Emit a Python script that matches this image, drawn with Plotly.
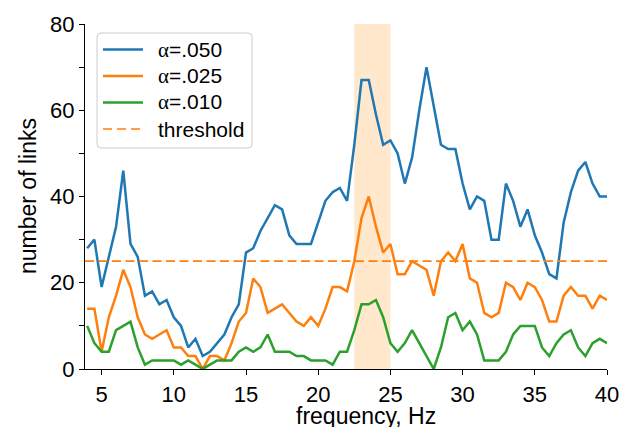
import plotly.graph_objects as go

# frequency grid, 4-40 Hz in 0.5 Hz steps
freqs = [4 + 0.5 * i for i in range(73)]

links_050 = [28, 30, 19, 26, 33, 46, 29, 26, 17, 18,
             15, 16, 12, 10, 5, 7, 3, 4, 6, 8,
             12, 15, 27, 28, 32, 35, 38, 37, 31, 29,
             29, 29, 34, 39, 41, 42, 39, 52, 67, 67,
             59, 52, 53, 50, 43, 49, 60, 70, 61, 52,
             51, 51, 43, 37, 40, 39, 30, 30, 43, 39,
             33, 37, 31, 27, 22, 21, 34, 41, 46, 48,
             43, 40, 40]

links_025 = [14, 14, 4, 12, 17, 23, 19, 12, 8, 7,
             8, 9, 5, 5, 3, 3, 0, 3, 3, 2,
             6, 11, 13, 21, 19, 13, 14, 15, 13, 11,
             10, 12, 10, 14, 19, 19, 18, 25, 35, 40,
             33, 27, 29, 22, 22, 25, 24, 23, 17, 25,
             27, 25, 29, 21, 20, 13, 12, 13, 20, 19,
             16, 20, 19, 16, 11, 11, 17, 19, 17, 17,
             14, 17, 16]

links_010 = [10, 6, 4, 4, 9, 10, 11, 5, 1, 2,
             2, 2, 2, 1, 2, 1, 0, 1, 2, 2,
             2, 4, 5, 4, 5, 8, 4, 4, 4, 3,
             3, 2, 2, 2, 1, 4, 4, 9, 15, 15,
             16, 12, 6, 4, 6, 9, 6, 3, 0, 5,
             12, 13, 9, 11, 8, 2, 2, 2, 4, 8,
             10, 10, 10, 5, 3, 6, 8, 9, 5, 3,
             6, 7, 6]

threshold = 25
band = [22.5, 25]
x_ticks = [5, 10, 15, 20, 25, 30, 35, 40]
y_ticks = [0, 20, 40, 60, 80]

ALPHA = "<span style=\"font-family:'Liberation Serif', serif\">α</span>"
series = [
    (ALPHA + "=.050", links_050, "#1f77b4"),
    (ALPHA + "=.025", links_025, "#ff7f0e"),
    (ALPHA + "=.010", links_010, "#2ca02c"),
]

FONT = "Liberation Sans, Arial, Helvetica, sans-serif"
W, H = 623, 429
ML, MR, MT, MB = 85, 16, 24, 60
PW, PH = W - ML - MR, H - MT - MB


def px_x(px):
    return (px - ML) / PW


def px_y(py):
    return (H - MB - py) / PH


fig = go.Figure()
for name, vals, color in series:
    fig.add_trace(go.Scatter(
        x=freqs, y=vals, mode="lines", name=name,
        line=dict(color=color, width=2.5), showlegend=False,
    ))

fig.add_trace(go.Scatter(
    x=[3.85, 40], y=[threshold, threshold], mode="lines", name="threshold",
    line=dict(color="#ff7f0e", width=1.7, dash="9px,4.5px"), showlegend=False,
))

fig.add_shape(
    type="rect", xref="x", yref="y",
    x0=band[0], x1=band[1], y0=0, y1=80,
    fillcolor="#ffe8cc", line=dict(width=0), layer="below",
)

# legend box with rounded corners
bx0, bx1, by0, by1, r = 97, 252, 33, 148, 4
path = (f"M{px_x(bx0 + r)},{px_y(by0)} L{px_x(bx1 - r)},{px_y(by0)} "
        f"Q{px_x(bx1)},{px_y(by0)} {px_x(bx1)},{px_y(by0 + r)} "
        f"L{px_x(bx1)},{px_y(by1 - r)} "
        f"Q{px_x(bx1)},{px_y(by1)} {px_x(bx1 - r)},{px_y(by1)} "
        f"L{px_x(bx0 + r)},{px_y(by1)} "
        f"Q{px_x(bx0)},{px_y(by1)} {px_x(bx0)},{px_y(by1 - r)} "
        f"L{px_x(bx0)},{px_y(by0 + r)} "
        f"Q{px_x(bx0)},{px_y(by0)} {px_x(bx0 + r)},{px_y(by0)} Z")
fig.add_shape(type="path", xref="paper", yref="paper", path=path,
              fillcolor="rgba(255,255,255,0.8)",
              line=dict(color="#cccccc", width=1), layer="above")

legend_rows = [(s[0], s[2], "solid", 2.5) for s in series] + \
              [("threshold", "#ff7f0e", "9px,5px", 1.5)]
row_y = [49.5, 76, 102.5, 129]
for (label, color, dash, width), ry in zip(legend_rows, row_y):
    fig.add_shape(type="line", xref="paper", yref="paper",
                  x0=px_x(103), x1=px_x(143), y0=px_y(ry), y1=px_y(ry),
                  line=dict(color=color, width=width, dash=dash),
                  layer="above")
    fig.add_annotation(text=label, xref="paper", yref="paper",
                       x=px_x(156), y=px_y(ry), xanchor="left",
                       yanchor="middle", showarrow=False,
                       font=dict(family=FONT, size=21, color="black"))

axis_common = dict(
    showgrid=False, zeroline=False, showline=True, automargin=False,
    linecolor="black", linewidth=1.3,
    ticks="outside", ticklen=5, tickwidth=1.3, tickcolor="black",
    tickfont=dict(family=FONT, size=22, color="black"),
)

fig.update_xaxes(range=[3.85, 40], tickvals=x_ticks, **axis_common)
fig.update_yaxes(range=[0, 80], tickvals=y_ticks,
                 minor=dict(dtick=10, ticks="outside", ticklen=5,
                            tickwidth=1.3, tickcolor="black"),
                 **axis_common)

fig.add_annotation(text="frequency, Hz", xref="paper", yref="paper",
                   x=px_x(366), y=px_y(416), xanchor="center",
                   yanchor="middle", height=22, showarrow=False,
                   font=dict(family=FONT, size=23, color="black"))
fig.add_annotation(text="number of links", xref="paper", yref="paper",
                   x=px_x(28), y=px_y(196), xanchor="center",
                   yanchor="middle", textangle=-90, showarrow=False,
                   font=dict(family=FONT, size=23, color="black"))

fig.update_layout(
    width=W, height=H,
    margin=dict(l=ML, r=MR, t=MT, b=MB, autoexpand=False),
    plot_bgcolor="white", paper_bgcolor="white",
    showlegend=False,
)

fig.write_html("out.html")
